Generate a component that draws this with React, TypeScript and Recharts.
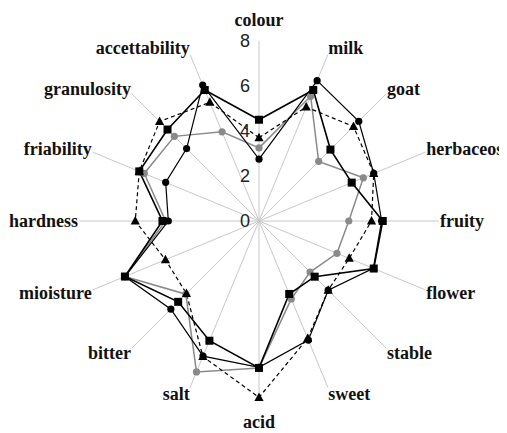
import { PolarAngleAxis, PolarGrid, PolarRadiusAxis, Radar, RadarChart } from 'recharts'

const categories = [
  'colour', 'milk', 'goat', 'herbaceos', 'fruity', 'flower', 'stable', 'sweet',
  'acid', 'salt', 'bitter', 'mioisture', 'hardness', 'friability', 'granulosity', 'accettability',
]

const circleSeries = [2.75, 6.75, 6.27, 5.52, 5.45, 5.5, 4.35, 5.73, 6.5, 6.5, 5.54, 6.45, 4.03, 4.49, 4.55, 6.54]
const squareSeries = [4.5, 6.3, 4.49, 4.46, 5.5, 5.52, 3.5, 3.51, 6.53, 5.76, 5.08, 6.45, 4.29, 5.76, 5.75, 6.3]
const triangleSeries = [3.7, 5.48, 5.94, 5.52, 5.0, 4.34, 4.35, 5.65, 7.84, 6.52, 4.56, 4.5, 5.5, 5.76, 6.25, 5.71]
const greySeries = [3.25, 6.0, 3.75, 5.02, 3.99, 3.75, 3.21, 3.75, 6.53, 7.26, 4.6, 6.45, 4.15, 5.52, 5.32, 4.29]

const radiusTicks = [0, 2, 4, 6, 8]

const data = categories.map((name, i) => ({
  name,
  circle: circleSeries[i],
  square: squareSeries[i],
  triangle: triangleSeries[i],
  grey: greySeries[i],
}))

const W = 499
const H = 425
const CX = 251
const CY = 213
const R = 180

const AngleTick = (props: any) => {
  const { index, payload } = props
  const a = (index * 2 * Math.PI) / categories.length
  const s = Math.sin(a)
  const c = Math.cos(a)
  const side = Math.abs(s) > 0.01
  const x = CX + 181 * s
  const y = CY - (side ? 187 : 201) * c
  const anchor = !side ? 'middle' : s > 0 ? 'start' : 'end'
  return (
    <text
      x={x}
      y={y}
      textAnchor={anchor}
      dominantBaseline="central"
      fontFamily="'Liberation Serif', 'Times New Roman', serif"
      fontWeight="bold"
      fontSize={18}
      fill="#111"
    >
      {payload.value}
    </text>
  )
}

const RadiusTick = (props: any) => {
  const { x, y, payload } = props
  return (
    <text x={x - 9} y={y} textAnchor="end" dominantBaseline="central" fontFamily="'Liberation Sans', Arial, sans-serif" fontSize={18} fill="#222">
      {payload.value}
    </text>
  )
}

const squareDot = (p: any) => <rect key={p.index} x={p.cx - 4} y={p.cy - 4} width={8} height={8} fill="#000" />
const triangleDot = (p: any) => (
  <polygon key={p.index} points={`${p.cx},${p.cy - 5} ${p.cx + 4.6},${p.cy + 3.5} ${p.cx - 4.6},${p.cy + 3.5}`} fill="#000" />
)
const circleDot = (p: any) => <circle key={p.index} cx={p.cx} cy={p.cy} r={3.6} fill="#000" />
const greyDot = (p: any) => <circle key={p.index} cx={p.cx} cy={p.cy} r={3.6} fill="#8a8a8a" />

export default function App() {
  return (
    <div style={{ width: W, height: H }}>
      <RadarChart width={W} height={H} data={data} cx={CX} cy={CY} outerRadius={R} margin={{ top: 0, right: 0, bottom: 0, left: 0 }}>
        <PolarGrid stroke="#c8c8c8" polarRadius={[]} />
        <PolarAngleAxis dataKey="name" axisLine={false} tickLine={false} tick={AngleTick} />
        <PolarRadiusAxis angle={90} domain={[0, 8]} ticks={radiusTicks} tickCount={5} axisLine={false} tickLine={false} tick={RadiusTick} />
        <Radar dataKey="grey" stroke="#8a8a8a" strokeWidth={1.5} fill="none" dot={greyDot} isAnimationActive={false} />
        <Radar dataKey="triangle" stroke="#000" strokeWidth={1.2} strokeDasharray="4 3" fill="none" dot={triangleDot} isAnimationActive={false} />
        <Radar dataKey="circle" stroke="#000" strokeWidth={1.2} fill="none" dot={circleDot} isAnimationActive={false} />
        <Radar dataKey="square" stroke="#000" strokeWidth={1.6} fill="none" dot={squareDot} isAnimationActive={false} />
      </RadarChart>
    </div>
  )
}
